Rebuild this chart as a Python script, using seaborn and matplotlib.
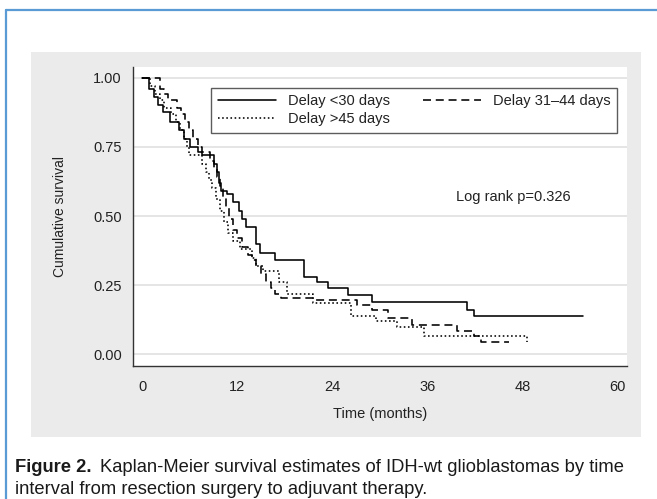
import numpy as np
import pandas as pd
import seaborn as sns
import matplotlib.pyplot as plt
from matplotlib.lines import Line2D
from matplotlib.patches import Rectangle

# Kaplan-Meier step curves (time in months, survival)
t_lt30 = [0, 0.8, 1.5, 2.0, 2.6, 3.5, 4.7, 5.3, 6.0, 7.0, 7.6, 9.1, 9.4, 9.7, 10.0,
          10.7, 11.4, 12.2, 12.6, 13.1, 14.4, 14.9, 16.8, 20.4, 22.0, 23.5, 26.0,
          29.0, 41.0, 41.9, 55.6]
s_lt30 = [1.0, 0.96, 0.93, 0.90, 0.875, 0.84, 0.81, 0.78, 0.75, 0.73, 0.72, 0.69,
          0.66, 0.62, 0.59, 0.58, 0.55, 0.52, 0.49, 0.46, 0.40, 0.365, 0.34, 0.28,
          0.26, 0.24, 0.215, 0.19, 0.16, 0.137, 0.137]

t_31_44 = [0, 2.2, 2.7, 3.2, 4.4, 4.9, 5.4, 5.9, 6.4, 7.0, 7.6, 8.6, 9.0, 9.4, 9.8,
           10.2, 10.6, 11.0, 11.5, 12.0, 12.6, 13.3, 13.8, 14.3, 15.0, 15.6, 16.2,
           16.8, 17.5, 21.5, 27.1, 29.0, 31.0, 34.0, 39.7, 41.9, 42.8, 46.3]
s_31_44 = [1.0, 0.96, 0.94, 0.92, 0.89, 0.87, 0.84, 0.81, 0.78, 0.75, 0.73, 0.70,
           0.67, 0.64, 0.61, 0.57, 0.53, 0.49, 0.45, 0.42, 0.39, 0.36, 0.34, 0.32,
           0.29, 0.26, 0.24, 0.22, 0.205, 0.195, 0.18, 0.16, 0.133, 0.105, 0.086,
           0.065, 0.043, 0.043]

t_gt45 = [0, 1.0, 1.6, 2.2, 2.8, 3.6, 4.2, 4.8, 5.3, 5.6, 5.9, 7.6, 8.0, 8.4, 8.8,
          9.3, 9.8, 10.3, 10.8, 11.4, 12.4, 13.8, 14.4, 15.2, 17.3, 18.3, 21.5,
          26.4, 29.5, 32.2, 35.6, 48.6]
s_gt45 = [1.0, 0.97, 0.94, 0.92, 0.89, 0.87, 0.84, 0.81, 0.78, 0.75, 0.72, 0.69,
          0.66, 0.63, 0.60, 0.56, 0.52, 0.48, 0.44, 0.41, 0.38, 0.35, 0.32, 0.30,
          0.26, 0.22, 0.185, 0.14, 0.122, 0.10, 0.065, 0.045]

groups = ['Delay <30 days', 'Delay 31\u201344 days', 'Delay >45 days']
x_ticks = [0, 12, 24, 36, 48, 60]
y_ticks = [0.00, 0.25, 0.50, 0.75, 1.00]
y_ticklabels = ['0.00', '0.25', '0.50', '0.75', '1.00']

df = pd.concat([
    pd.DataFrame({'time': t_lt30, 'surv': s_lt30, 'group': groups[0]}),
    pd.DataFrame({'time': t_31_44, 'surv': s_31_44, 'group': groups[1]}),
    pd.DataFrame({'time': t_gt45, 'surv': s_gt45, 'group': groups[2]}),
])

sns.set_theme(style='white')
plt.rcParams['font.family'] = ['Liberation Sans', 'DejaVu Sans']

W, H = 657, 499
fig = plt.figure(figsize=(W / 100, H / 100), dpi=100)
fig.patch.set_facecolor('white')

# gray panel behind the chart
fig.add_artist(Rectangle((31 / W, 1 - 437 / H), (641 - 31) / W, (437 - 52) / H,
                         transform=fig.transFigure, facecolor='#ebebeb',
                         edgecolor='none', zorder=0))
# blue frame (left and top)
fig.add_artist(Line2D([6 / W, 6 / W], [0, 1 - 10 / H], transform=fig.transFigure,
                      color='#5b9bd5', lw=1.6))
fig.add_artist(Line2D([6 / W, 1], [1 - 10 / H, 1 - 10 / H], transform=fig.transFigure,
                      color='#5b9bd5', lw=1.6))

ax = fig.add_axes([133 / W, 1 - 366 / H, (627 - 133) / W, (366 - 67) / H])
ax.set_facecolor('white')

dash_map = {groups[0]: '', groups[1]: (5, 3), groups[2]: (1, 1.6)}
sns.lineplot(data=df, x='time', y='surv', style='group', dashes=dash_map,
             color='black', drawstyle='steps-post', estimator=None, sort=False,
             lw=1.15, legend=False, ax=ax)

ax.set_xlim(-1.17, 61.2)
ax.set_ylim(-0.042, 1.039)
ax.set_xticks(x_ticks)
ax.set_yticks(y_ticks)
ax.set_yticklabels(y_ticklabels)
ax.yaxis.grid(True, color='#e3e3e3', lw=1.3)
ax.xaxis.grid(False)
ax.set_axisbelow(True)

for side in ['top', 'right']:
    ax.spines[side].set_visible(False)
for side in ['left', 'bottom']:
    ax.spines[side].set_color('#333333')
    ax.spines[side].set_linewidth(1.0)
ax.tick_params(axis='both', direction='out', length=5, width=1, color='#333333',
               labelsize=10.5, labelcolor='#222222')
ax.tick_params(axis='x', pad=5)
ax.tick_params(axis='y', pad=3)

ax.set_xlabel('Time (months)', fontsize=10.5, color='#222222')
ax.set_ylabel('Cumulative survival', fontsize=10, color='#222222')
ax.xaxis.set_label_coords(0.5, (366 - 414) / 299)
ax.xaxis.label.set_verticalalignment('center')
ax.yaxis.set_label_coords((60 - 133) / 494, 0.5)
ax.yaxis.label.set_verticalalignment('center')

ax.text(39.6, 0.568, 'Log rank p=0.326', fontsize=10.5, color='#222222',
        ha='left', va='center')

handles = [
    Line2D([], [], color='black', lw=1.15, linestyle='-'),
    Line2D([], [], color='black', lw=1.15, dashes=dash_map[groups[2]]),
    Line2D([], [], color='black', lw=1.15, dashes=dash_map[groups[1]]),
]
labels = [groups[0], groups[2], groups[1]]
leg = ax.legend(handles, labels, ncol=2, loc='upper left',
                bbox_to_anchor=(0.158, 0.766, 0.822, 0.164), mode='expand',
                borderaxespad=0, frameon=True, fancybox=False, fontsize=10.5,
                handlelength=4.0, handletextpad=0.8, labelspacing=0.25,
                borderpad=0.45, columnspacing=1.5)
leg.get_frame().set_edgecolor('#333333')
leg.get_frame().set_linewidth(1.0)
for t in leg.get_texts():
    t.set_color('#222222')

# caption
cap_family = ['Liberation Sans Narrow', 'Liberation Sans', 'DejaVu Sans']
t1 = fig.text(15 / W, 1 - 467 / H, 'Figure 2.', fontsize=13.2, weight='bold',
              family=cap_family, va='center', ha='left', color='#1a1a1a')
fig.canvas.draw()
bb = t1.get_window_extent()
fig.text((bb.x1 + 9) / W, 1 - 467 / H,
         'Kaplan-Meier survival estimates of IDH-wt glioblastomas by time',
         fontsize=13.2, family=cap_family, va='center', ha='left', color='#1a1a1a')
fig.text(15 / W, 1 - 489 / H, 'interval from resection surgery to adjuvant therapy.',
         fontsize=13.2, family=cap_family, va='center', ha='left', color='#1a1a1a')

fig.savefig('out.png', dpi=100)
